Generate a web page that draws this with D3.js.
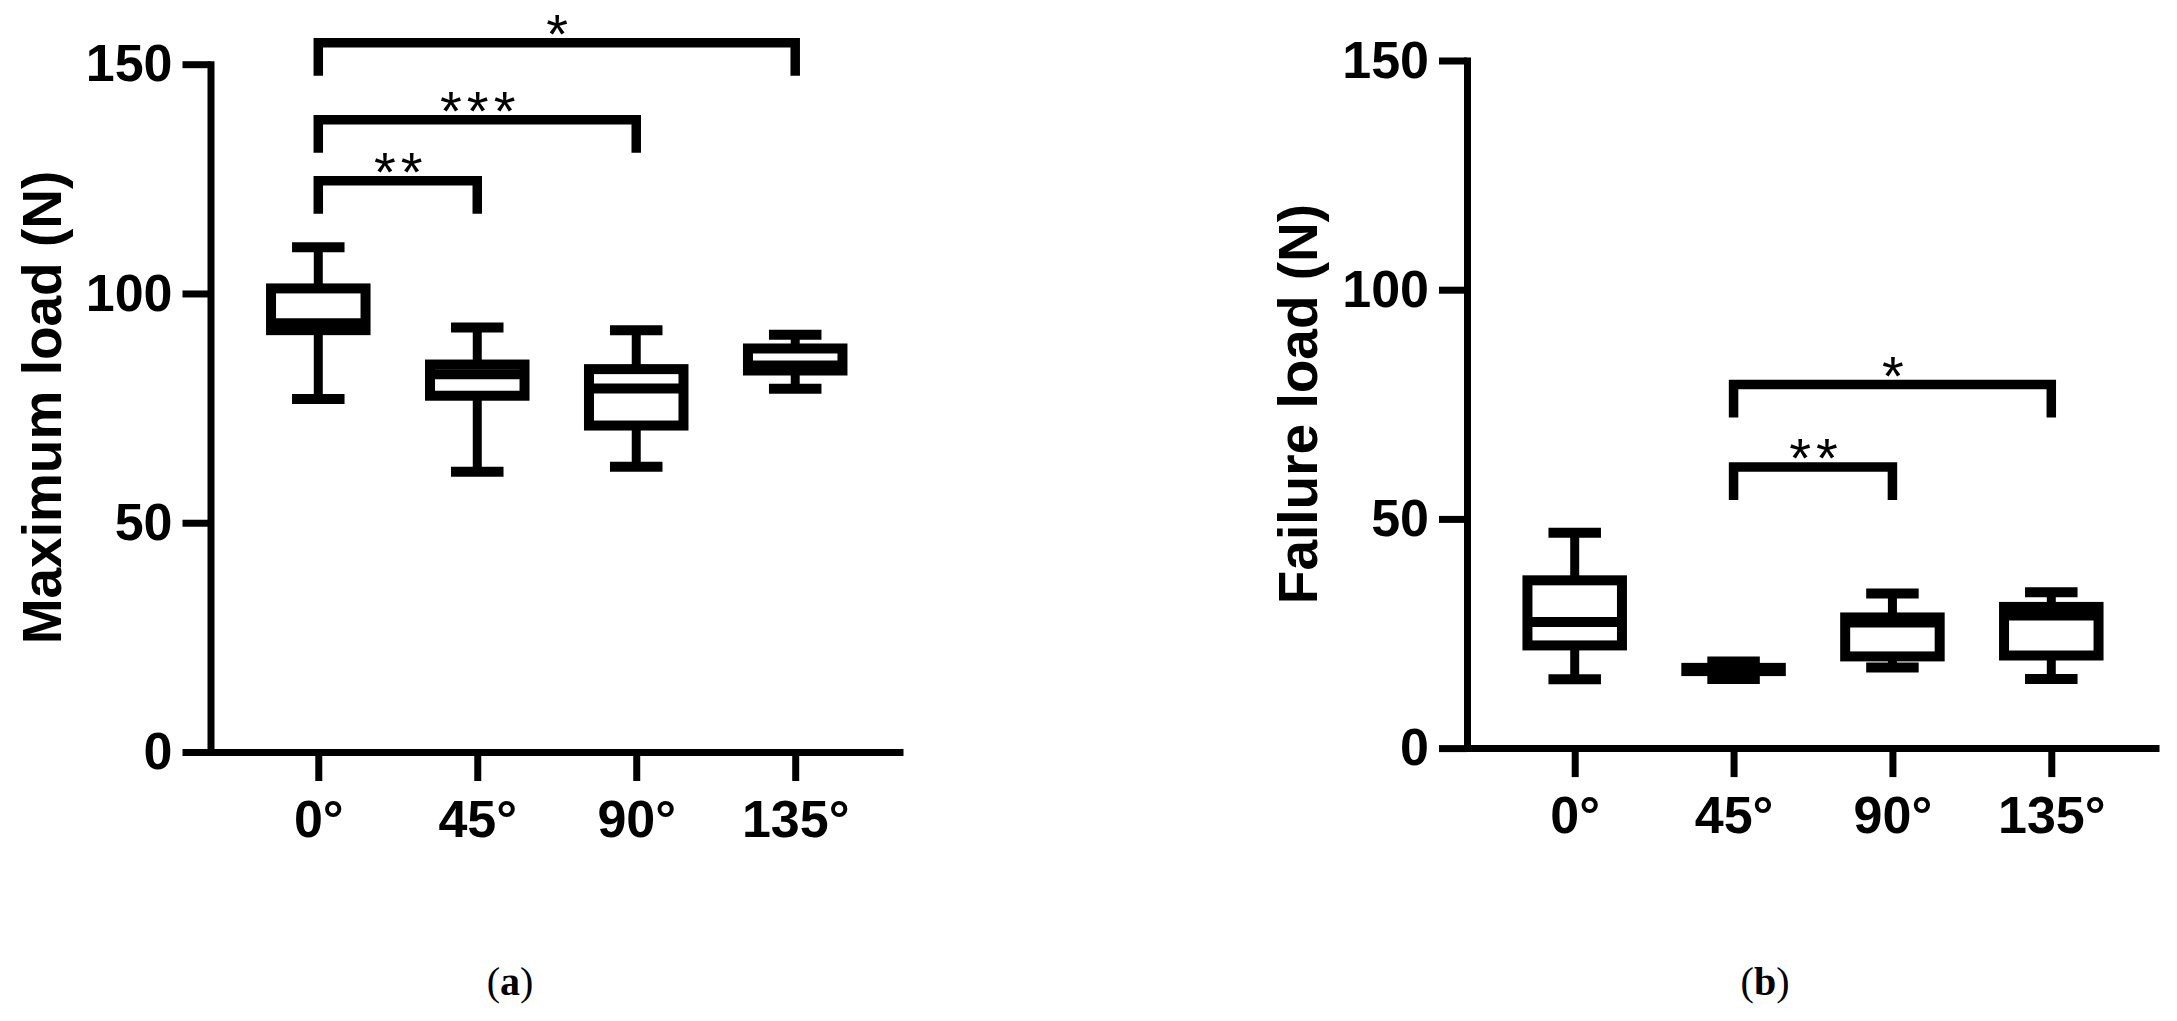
<!DOCTYPE html>
<html>
<head>
<meta charset="utf-8">
<script src="https://cdn.jsdelivr.net/npm/d3@7"></script>
<style>
  html, body { margin: 0; padding: 0; background: #fff; }
  svg { display: block; }
</style>
</head>
<body>
<svg id="chart" width="2177" height="1021"></svg>
<script>
// ---------- data ----------
const categories = ["0°", "45°", "90°", "135°"];
const yTicks = [0, 50, 100, 150];

// (a) Maximum load (N)
const maxLoadMin    = [77.0, 61.1, 62.2, 79.2];
const maxLoadQ1     = [92.0, 77.7, 71.2, 83.2];
const maxLoadMedian = [93.5, 82.4, 79.3, 84.3];
const maxLoadQ3     = [101.1, 84.5, 83.5, 88.0];
const maxLoadMax    = [110.1, 92.6, 92.0, 91.0];

// (b) Failure load (N)
const failLoadMin    = [15.0, 15.1, 17.6, 15.1];
const failLoadQ1     = [22.4, 16.8, 20.0, 20.2];
const failLoadMedian = [27.5, 17.1, 27.4, 28.9];
const failLoadQ3     = [36.6, 17.5, 28.5, 30.8];
const failLoadMax    = [47.0, 18.9, 33.7, 34.0];

// significance brackets: from category, to category, bracket value, label
const maxLoadSigFrom  = ["0°", "0°", "0°"];
const maxLoadSigTo    = ["45°", "90°", "135°"];
const maxLoadSigValue = [124.6, 137.9, 154.7];
const maxLoadSigLabel = ["**", "***", "*"];

const failLoadSigFrom  = ["45°", "45°"];
const failLoadSigTo    = ["90°", "135°"];
const failLoadSigValue = [61.3, 79.3];
const failLoadSigLabel = ["**", "*"];

const panelTitles = ["Maximum load (N)", "Failure load (N)"];
const panelCaptions = ["a", "b"];

// ---------- drawing ----------
const svg = d3.select("#chart");
const SANS = "'Liberation Sans', Arial, Helvetica, sans-serif";

function buildBoxes(mins, q1s, meds, q3s, maxs) {
  return categories.map((c, i) => ({cat: c, min: mins[i], q1: q1s[i], med: meds[i], q3: q3s[i], max: maxs[i]}));
}
function buildSig(from, to, val, lab) {
  return from.map((f, i) => ({from: f, to: to[i], value: val[i], label: lab[i]}));
}

const panels = [
  {
    axisX: 210.5, axisEnd: 903, y0: 752, y150: 64.2,
    title: panelTitles[0], titleX: 61, titleY: 407.5,
    caption: panelCaptions[0], capX: 510,
    boxes: buildBoxes(maxLoadMin, maxLoadQ1, maxLoadMedian, maxLoadQ3, maxLoadMax),
    sig: buildSig(maxLoadSigFrom, maxLoadSigTo, maxLoadSigValue, maxLoadSigLabel)
  },
  {
    axisX: 1467, axisEnd: 2159, y0: 748.1, y150: 60.5,
    title: panelTitles[1], titleX: 1317, titleY: 404,
    caption: panelCaptions[1], capX: 1765,
    boxes: buildBoxes(failLoadMin, failLoadQ1, failLoadMedian, failLoadQ3, failLoadMax),
    sig: buildSig(failLoadSigFrom, failLoadSigTo, failLoadSigValue, failLoadSigLabel)
  }
];

const BOX_W = 94.5, CAP_W = 52.5, SW = 10, AXW = 7, LEG = 33;

panels.forEach(p => {
  const g = svg.append("g");
  const y = d3.scaleLinear().domain([0, 150]).range([p.y0, p.y150]);
  const x = d3.scalePoint().domain(categories).range([p.axisX, p.axisEnd]).padding(0.678);

  // y axis
  const yAxis = g.append("g").attr("transform", `translate(${p.axisX},0)`)
    .call(d3.axisLeft(y).tickValues(yTicks).tickSize(28).tickSizeOuter(0).tickPadding(10));
  yAxis.select(".domain").attr("stroke-width", AXW).attr("stroke-linecap", "square").attr("stroke", "#000");
  yAxis.selectAll(".tick line").attr("stroke-width", AXW).attr("stroke", "#000");
  yAxis.selectAll(".tick text").attr("font-family", SANS).attr("font-weight", "bold")
    .attr("font-size", 52).attr("fill", "#000");

  // x axis
  const xAxis = g.append("g").attr("transform", `translate(0,${p.y0})`)
    .call(d3.axisBottom(x).tickSize(29).tickSizeOuter(0).tickPadding(19));
  xAxis.select(".domain").attr("stroke-width", AXW).attr("stroke", "#000");
  xAxis.selectAll(".tick line").attr("stroke-width", AXW).attr("stroke", "#000");
  xAxis.selectAll(".tick text").attr("font-family", SANS).attr("font-weight", "bold")
    .attr("font-size", 52).attr("fill", "#000");

  // title
  g.append("text")
    .attr("transform", `translate(${p.titleX},${p.titleY}) rotate(-90)`)
    .attr("text-anchor", "middle")
    .attr("font-family", SANS).attr("font-weight", "bold").attr("font-size", 55)
    .attr("fill", "#000")
    .text(p.title);

  // boxes
  const bx = g.append("g").selectAll("g").data(p.boxes).join("g");
  bx.append("line")
    .attr("x1", d => x(d.cat)).attr("x2", d => x(d.cat))
    .attr("y1", d => y(d.max)).attr("y2", d => y(d.q3))
    .attr("stroke", "#000").attr("stroke-width", 9);
  bx.append("line")
    .attr("x1", d => x(d.cat)).attr("x2", d => x(d.cat))
    .attr("y1", d => y(d.q1)).attr("y2", d => y(d.min))
    .attr("stroke", "#000").attr("stroke-width", 9);
  ["max", "min"].forEach(k => {
    bx.append("line")
      .attr("x1", d => x(d.cat) - CAP_W / 2).attr("x2", d => x(d.cat) + CAP_W / 2)
      .attr("y1", d => y(d[k])).attr("y2", d => y(d[k]))
      .attr("stroke", "#000").attr("stroke-width", SW);
  });
  bx.append("rect")
    .attr("x", d => x(d.cat) - BOX_W / 2).attr("width", BOX_W)
    .attr("y", d => y(d.q3)).attr("height", d => y(d.q1) - y(d.q3))
    .attr("fill", "#fff").attr("stroke", "#000").attr("stroke-width", SW);
  bx.append("line")
    .attr("x1", d => x(d.cat) - BOX_W / 2).attr("x2", d => x(d.cat) + BOX_W / 2)
    .attr("y1", d => y(d.med)).attr("y2", d => y(d.med))
    .attr("stroke", "#000").attr("stroke-width", SW);

  // significance brackets
  const sg = g.append("g").selectAll("g").data(p.sig).join("g");
  sg.append("path")
    .attr("d", d => {
      const x1 = x(d.from), x2 = x(d.to), yl = y(d.value);
      return `M${x1},${yl + LEG}V${yl}H${x2}V${yl + LEG}`;
    })
    .attr("fill", "none").attr("stroke", "#000").attr("stroke-width", 9.5)
    .attr("stroke-linejoin", "miter").attr("stroke-linecap", "butt");
  sg.append("text")
    .attr("x", d => (x(d.from) + x(d.to)) / 2 + 3)
    .attr("y", d => y(d.value) + 10)
    .attr("text-anchor", "middle")
    .attr("font-family", SANS).attr("font-size", 56).attr("letter-spacing", 5)
    .attr("fill", "#000")
    .text(d => d.label);

  // caption
  const cap = g.append("text")
    .attr("x", p.capX).attr("y", 995)
    .attr("text-anchor", "middle")
    .attr("font-family", "'Liberation Serif', 'Times New Roman', serif")
    .attr("font-size", 40).attr("fill", "#000");
  cap.append("tspan").text("(");
  cap.append("tspan").attr("font-weight", "bold").text(p.caption);
  cap.append("tspan").text(")");
});
</script>
</body>
</html>
